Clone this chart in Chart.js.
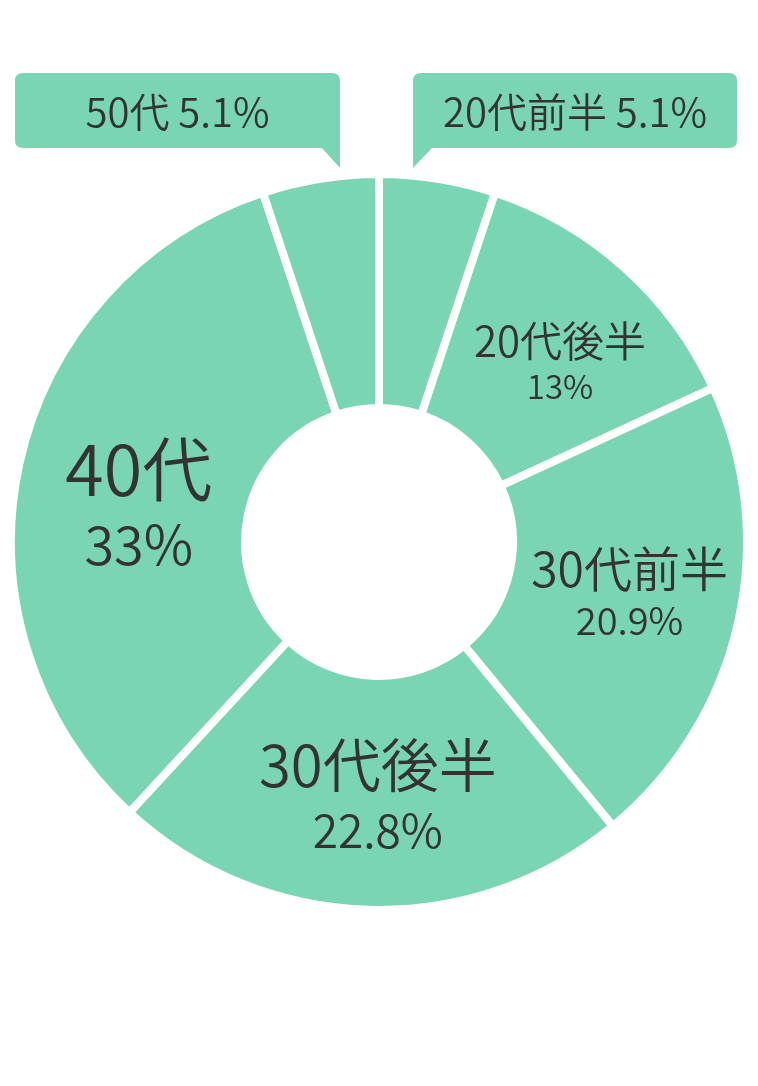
<!DOCTYPE html>
<html>
<head>
<meta charset="utf-8">
<script src="https://cdn.jsdelivr.net/npm/chart.js@4"></script>
<style>
  html, body { margin: 0; padding: 0; background: #fff; }
  #wrap { width: 758px; height: 1086px; position: relative; }
</style>
</head>
<body>
<div id="wrap"><canvas id="c"></canvas></div>
<script>
const categories = ['20代前半', '20代後半', '30代前半', '30代後半', '40代', '50代'];
const shares = [5.1, 13, 20.9, 22.8, 33, 5.1];
const calloutIndexes = [5, 0];

const FONT = "'Noto Sans CJK JP', 'Noto Sans', sans-serif";
const WEIGHT = 350;
const GREEN = '#79d5b2';
const TEXT = '#333333';

// label style per segment: [nameSize, pctSize, lineGap, nudgeX, nudgeY]
const labelStyle = {
  1: [42, 33, 45, 11, 12],
  2: [48, 38, 52, 2, -4],
  3: [58, 46, 65, 6, 1],
  4: [70, 54, 75, 9, 19]
};
// callout boxes: index -> geometry
const calloutStyle = {
  5: { x0: 15, x1: 340, y0: 73, y1: 148, tail: 'right', tailW: 18, tailTip: 168 },
  0: { x0: 413, x1: 737, y0: 73, y1: 148, tail: 'left', tailW: 19, tailTip: 168 }
};

const labelPlugin = {
  id: 'segLabels',
  afterDatasetsDraw(chart) {
    const ctx = chart.ctx;
    const meta = chart.getDatasetMeta(0);
    ctx.save();
    ctx.fillStyle = TEXT;
    ctx.textAlign = 'center';
    ctx.textBaseline = 'middle';
    meta.data.forEach((arc, i) => {
      const st = labelStyle[i];
      if (!st) return;
      const mid = (arc.startAngle + arc.endAngle) / 2;
      const r = 255;
      const x = arc.x + Math.cos(mid) * r + st[3];
      const y = arc.y + Math.sin(mid) * r + st[4];
      ctx.font = `${WEIGHT} ${st[0]}px ${FONT}`;
      ctx.fillText(categories[i], x, y - st[2] / 2);
      ctx.font = `${WEIGHT} ${st[1]}px ${FONT}`;
      ctx.fillText(shares[i] + '%', x, y + st[2] / 2);
    });
    calloutIndexes.forEach(i => {
      const b = calloutStyle[i];
      const rr = 8;
      ctx.fillStyle = GREEN;
      ctx.beginPath();
      if (b.tail === 'right') {
        ctx.moveTo(b.x0 + rr, b.y0);
        ctx.lineTo(b.x1 - rr, b.y0);
        ctx.quadraticCurveTo(b.x1, b.y0, b.x1, b.y0 + rr);
        ctx.lineTo(b.x1, b.tailTip);
        ctx.lineTo(b.x1 - b.tailW, b.y1);
        ctx.lineTo(b.x0 + rr, b.y1);
        ctx.quadraticCurveTo(b.x0, b.y1, b.x0, b.y1 - rr);
        ctx.lineTo(b.x0, b.y0 + rr);
        ctx.quadraticCurveTo(b.x0, b.y0, b.x0 + rr, b.y0);
      } else {
        ctx.moveTo(b.x0 + rr, b.y0);
        ctx.lineTo(b.x1 - rr, b.y0);
        ctx.quadraticCurveTo(b.x1, b.y0, b.x1, b.y0 + rr);
        ctx.lineTo(b.x1, b.y1 - rr);
        ctx.quadraticCurveTo(b.x1, b.y1, b.x1 - rr, b.y1);
        ctx.lineTo(b.x0 + b.tailW, b.y1);
        ctx.lineTo(b.x0, b.tailTip);
        ctx.lineTo(b.x0, b.y0 + rr);
        ctx.quadraticCurveTo(b.x0, b.y0, b.x0 + rr, b.y0);
      }
      ctx.closePath();
      ctx.fill();
      ctx.fillStyle = TEXT;
      ctx.font = `${WEIGHT} 40px ${FONT}`;
      ctx.fillText(categories[i] + ' ' + shares[i] + '%', (b.x0 + b.x1) / 2, (b.y0 + b.y1) / 2 + 1);
    });
    ctx.restore();
  }
};

new Chart(document.getElementById('c'), {
  type: 'doughnut',
  data: {
    labels: categories,
    datasets: [{
      data: shares,
      backgroundColor: GREEN,
      borderColor: '#ffffff',
      borderWidth: 8,
      hoverOffset: 0
    }]
  },
  options: {
    responsive: true,
    maintainAspectRatio: false,
    animation: false,
    radius: 368,
    cutout: '36.4%',
    layout: { padding: { bottom: 2 } },
    plugins: {
      legend: { display: false },
      tooltip: { enabled: false }
    },
    events: []
  },
  plugins: [labelPlugin]
});
</script>
</body>
</html>
